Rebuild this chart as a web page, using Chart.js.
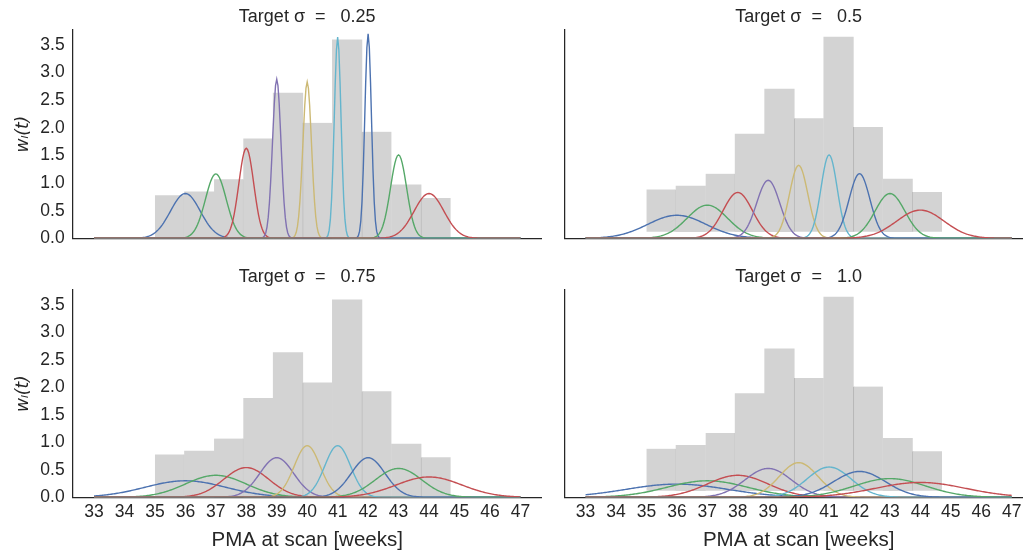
<!DOCTYPE html>
<html>
<head>
<meta charset="utf-8">
<script src="https://cdn.jsdelivr.net/npm/chart.js@4.4.1/dist/chart.umd.min.js"></script>
<style>
  html, body { margin: 0; padding: 0; background: #ffffff; overflow: hidden; }
  body { width: 1023px; height: 557px; position: relative; }
  .panel { position: absolute; overflow: hidden; }
  canvas { display: block; }
</style>
</head>
<body>
<div class="panel" style="left:0px;top:0px;width:545px;height:250px"><canvas id="cA" width="545" height="250"></canvas></div>
<div class="panel" style="left:545px;top:0px;width:478px;height:250px"><canvas id="cB" width="490" height="250"></canvas></div>
<div class="panel" style="left:0px;top:260px;width:545px;height:297px"><canvas id="cC" width="545" height="297"></canvas></div>
<div class="panel" style="left:545px;top:260px;width:478px;height:297px"><canvas id="cD" width="490" height="297"></canvas></div>
<script>
// ---- data ----
const targetSigmas = ['0.25', '0.5', '0.75', '1.0'];
const xTickValues = [33, 34, 35, 36, 37, 38, 39, 40, 41, 42, 43, 44, 45, 46, 47];
const yTickValues = [0.0, 0.5, 1.0, 1.5, 2.0, 2.5, 3.0, 3.5];

// histogram of scan ages (same in every panel)
const histRange = [35.0, 44.71];
const histHeights = [0.78, 0.84, 1.07, 1.80, 2.63, 2.09, 3.59, 1.93, 0.97, 0.73];

// kernel centres (weeks) and the domain they are evaluated on
const kernelCentres = [36, 37, 38, 39, 40, 41, 42, 43, 44];
const kernelDomain = [33, 47];

// peak height and width of each kernel, per target sigma
const peaks025 = [0.81, 1.165, 1.63, 2.88, 2.83, 3.64, 3.70, 1.51, 0.81];
const widths025 = [0.49, 0.342, 0.245, 0.139, 0.141, 0.110, 0.108, 0.264, 0.49];
const peaks050 = [0.417, 0.60, 0.83, 1.05, 1.32, 1.51, 1.17, 0.81, 0.51];
const widths050 = [0.957, 0.665, 0.481, 0.380, 0.302, 0.264, 0.341, 0.492, 0.782];
const peaks075 = [0.30, 0.40, 0.54, 0.72, 0.94, 0.94, 0.72, 0.525, 0.37];
const widths075 = [1.33, 0.997, 0.739, 0.554, 0.424, 0.424, 0.554, 0.760, 1.078];
const peaks100 = [0.24, 0.30, 0.40, 0.525, 0.63, 0.55, 0.47, 0.34, 0.27];
const widths100 = [1.66, 1.33, 0.997, 0.760, 0.633, 0.725, 0.849, 1.173, 1.477];

const kernelColours = ['#4C72B0', '#55A868', '#C44E52', '#8172B2', '#CCB974', '#64B5CD', '#4C72B0', '#55A868', '#C44E52'];

// ---- helpers ----
const INK = '#262626';
Chart.defaults.font.family = "'Liberation Sans', Arial, sans-serif";
Chart.defaults.color = INK;

function histData() {
  const n = histHeights.length;
  const w = (histRange[1] - histRange[0]) / n;
  return histHeights.map((h, i) => ({ x: histRange[0] + w * (i + 0.5), y: h }));
}

// faint seam visible at every second bin boundary, drawn on the lower neighbour
function seamWidths(ctx) {
  const i = ctx.dataIndex;
  const n = histHeights.length;
  const bw = { top: 0, bottom: 0, left: 0, right: 0 };
  for (let k = 1; k < n; k += 2) {
    const lowerIsLeft = histHeights[k - 1] < histHeights[k];
    if (lowerIsLeft && i === k - 1) bw.right = 1;
    if (!lowerIsLeft && i === k) bw.left = 1;
  }
  return bw;
}

function kernelCurve(centre, peak, width) {
  const pts = [];
  const step = 0.04;
  const count = Math.round((kernelDomain[1] - kernelDomain[0]) / step);
  for (let j = 0; j <= count; j++) {
    const t = kernelDomain[0] + j * step;
    const z = (t - centre) / width;
    pts.push({ x: t, y: peak * Math.exp(-0.5 * z * z) });
  }
  return pts;
}

function makePanel(id, cfg) {
  const datasets = [{
    type: 'bar',
    data: histData(),
    yAxisID: 'yb',
    backgroundColor: '#D3D3D3',
    borderColor: 'rgba(150,150,150,0.55)',
    borderWidth: seamWidths,
    barPercentage: 1.0,
    categoryPercentage: 1.0,
    grouped: false,
    order: 20
  }];
  kernelCentres.forEach((c, i) => {
    datasets.push({
      type: 'line',
      data: kernelCurve(c, cfg.peaks[i], cfg.widths[i]),
      yAxisID: 'y',
      borderColor: kernelColours[i],
      borderWidth: 1.4,
      pointRadius: 0,
      tension: 0,
      fill: false,
      order: 10 - i
    });
  });

  const tickFont = { size: 17.5 };
  new Chart(document.getElementById(id), {
    type: 'line',
    data: { datasets },
    options: {
      responsive: false,
      animation: false,
      devicePixelRatio: 1,
      parsing: false,
      layout: { padding: cfg.padding },
      plugins: {
        legend: { display: false },
        tooltip: { enabled: false },
        title: {
          display: true,
          text: 'Target σ  =   ' + cfg.sigma,
          font: { size: 18, weight: 'normal' },
          color: INK,
          fullSize: false,
          padding: { top: 6, bottom: 2.4 }
        }
      },
      scales: {
        x: {
          type: 'linear',
          min: 32.3,
          max: 47.7,
          offset: false,
          grid: { display: true, drawOnChartArea: false, drawTicks: false, color: 'rgba(0,0,0,0)', offset: false },
          border: { display: true, color: INK, width: 1.25 },
          ticks: { display: cfg.showX, font: tickFont, color: INK, padding: 4, autoSkip: false, maxRotation: 0 },
          afterBuildTicks: s => { s.ticks = xTickValues.map(v => ({ value: v })); },
          title: {
            display: cfg.showX,
            text: 'PMA at scan [weeks]',
            font: { size: 20.5 },
            color: INK,
            padding: { top: 0, bottom: 4 }
          },
          afterFit: s => {
            s.height = cfg.showX ? 59.7 : 0;
            s.paddingLeft = 0; s.paddingRight = 0;
          }
        },
        y: {
          type: 'linear',
          min: 0,
          max: 3.77,
          grid: { display: true, drawOnChartArea: false, drawTicks: false, color: 'rgba(0,0,0,0)' },
          border: { display: true, color: INK, width: 1.25 },
          ticks: {
            display: cfg.showY,
            font: tickFont,
            color: INK,
            padding: 8,
            callback: v => Number(v).toFixed(1)
          },
          afterBuildTicks: s => { s.ticks = yTickValues.map(v => ({ value: v })); },
          title: {
            display: cfg.showY,
            text: 'wₗ(t)',
            font: { family: "'DejaVu Sans', sans-serif", size: 17, style: 'italic' },
            color: INK,
            padding: { top: 13, bottom: 0 }
          },
          afterFit: s => {
            s.width = cfg.yAxisWidth;
            s.paddingTop = 0; s.paddingBottom = 0;
          }
        },
        yb: {
          type: 'linear',
          display: false,
          min: cfg.barRange[0],
          max: cfg.barRange[1]
        }
      }
    }
  });
}

makePanel('cA', { sigma: targetSigmas[0], peaks: peaks025, widths: widths025, showX: false, showY: true,
  yAxisWidth: 72.7, barRange: [0, 3.77], padding: { left: 0, right: 3.3, top: 0, bottom: 11.7 } });
makePanel('cB', { sigma: targetSigmas[1], peaks: peaks050, widths: widths050, showX: false, showY: false,
  yAxisWidth: 19.3, barRange: [-0.122, 3.72], padding: { left: 0, right: 2, top: 0, bottom: 11.7 } });
makePanel('cC', { sigma: targetSigmas[2], peaks: peaks075, widths: widths075, showX: true, showY: true,
  yAxisWidth: 72.7, barRange: [0, 3.77], padding: { left: 0, right: 3.3, top: 0, bottom: 0 } });
makePanel('cD', { sigma: targetSigmas[3], peaks: peaks100, widths: widths100, showX: true, showY: false,
  yAxisWidth: 19.3, barRange: [-0.122, 3.72], padding: { left: 0, right: 2, top: 0, bottom: 0 } });
</script>
</body>
</html>
